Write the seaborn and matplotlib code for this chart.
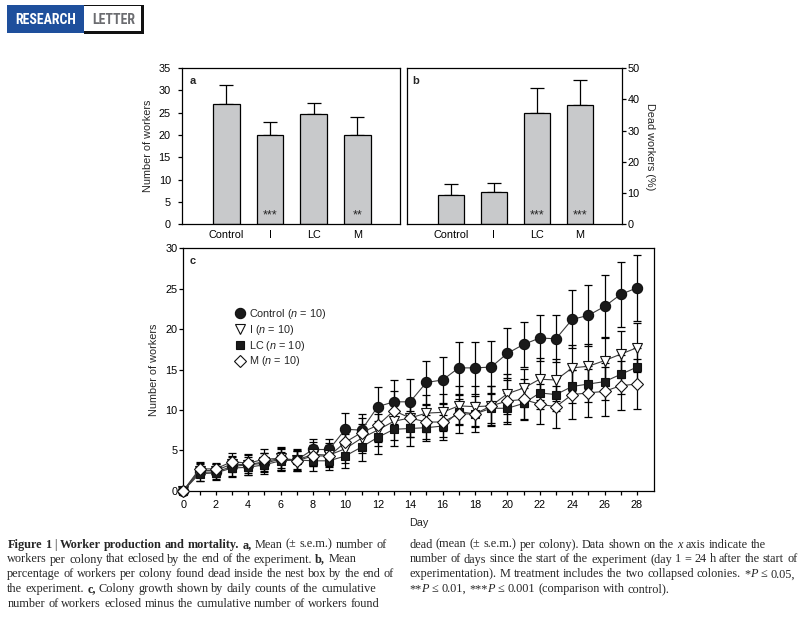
import matplotlib
matplotlib.use("Agg")
import matplotlib.pyplot as plt
from matplotlib.lines import Line2D
from matplotlib.patches import Rectangle
import numpy as np
import pandas as pd
import seaborn as sns

# ---- data ----
treatments = ["Control", "I", "LC", "M"]
workers_mean = [27.0, 19.9, 24.8, 20.1]
workers_sem = [4.3, 2.9, 2.45, 4.0]
workers_sig = ["", "***", "", "**"]
dead_mean = [9.5, 10.2, 35.7, 38.2]
dead_sem = [3.4, 3.1, 7.9, 7.9]
dead_sig = ["", "", "***", "***"]

days = list(range(29))
control_mean = [0, 2.3, 2.3, 3.0, 3.2, 3.4, 3.9, 3.8, 5.1, 5.1, 7.6, 7.5, 10.4, 11.0, 11.0,
                13.4, 13.7, 15.2, 15.2, 15.3, 17.0, 18.1, 18.9, 18.8, 21.2, 21.7, 22.8, 24.3, 25.1]
control_sem = [0, 1.1, 1.0, 1.2, 1.3, 1.3, 1.4, 1.3, 1.3, 1.3, 2.0, 2.0, 2.4, 2.7, 2.8,
               2.7, 2.8, 3.2, 3.2, 3.2, 3.1, 2.8, 2.9, 2.9, 3.6, 3.8, 3.9, 4.0, 4.1]
i_mean = [0, 2.5, 2.5, 3.3, 3.2, 3.6, 4.0, 3.8, 4.5, 4.4, 5.2, 6.5, 7.5, 8.6, 9.0,
          9.6, 9.7, 10.5, 10.4, 10.5, 12.0, 12.7, 13.8, 13.7, 15.2, 15.4, 16.1, 16.9, 17.7]
i_sem = [0, 0.8, 0.8, 1.0, 1.0, 1.1, 1.2, 1.2, 1.5, 1.5, 1.8, 1.8, 2.0, 2.3, 2.4,
         2.3, 2.3, 2.4, 2.5, 2.4, 2.5, 2.4, 2.6, 2.6, 2.8, 2.8, 2.9, 2.9, 3.0]
lc_mean = [0, 2.1, 2.2, 2.8, 2.9, 3.2, 3.7, 3.8, 3.7, 3.7, 4.3, 5.4, 6.6, 7.6, 7.7,
           7.8, 8.0, 9.8, 9.5, 10.2, 10.2, 10.8, 12.1, 11.9, 12.9, 13.2, 13.5, 14.4, 15.3]
lc_sem = [0, 0.9, 0.8, 1.1, 0.9, 0.9, 1.1, 1.1, 1.2, 1.1, 1.5, 1.7, 2.0, 2.1, 2.2,
          1.6, 1.4, 1.6, 1.5, 1.8, 1.9, 1.9, 2.0, 2.0, 2.1, 2.2, 2.3, 2.4, 2.4]
m_mean = [0, 2.7, 2.7, 3.6, 3.4, 3.9, 4.0, 3.7, 4.3, 4.3, 6.0, 7.2, 8.1, 9.9, 9.0,
          8.5, 8.5, 9.5, 9.5, 10.5, 11.1, 11.3, 10.7, 10.4, 11.9, 12.1, 12.3, 13.0, 13.2]
m_sem = [0, 0.8, 0.7, 1.1, 1.0, 1.2, 1.4, 1.2, 1.3, 1.3, 1.8, 1.8, 2.1, 2.4, 2.3,
         2.1, 2.2, 2.3, 2.2, 2.5, 2.6, 2.5, 2.5, 2.6, 3.0, 3.0, 3.0, 3.0, 3.1]
group_n = 10

caption_left = [
    [("Figure 1", "b"), (" | ", "r"), ("Worker production and mortality.", "b"), (" ", "r"),
     ("a,", "b"), (" Mean (\u00b1 s.e.m.) number of", "r")],
    [("workers per colony that eclosed by the end of the experiment. ", "r"), ("b,", "b"),
     (" Mean", "r")],
    [("percentage of workers per colony found dead inside the nest box by the end of", "r")],
    [("the experiment. ", "r"), ("c,", "b"),
     (" Colony growth shown by daily counts of the cumulative", "r")],
    [("number of workers eclosed minus the cumulative number of workers found", "r")],
]
caption_right = [
    [("dead (mean (\u00b1 s.e.m.) per colony). Data shown on the ", "r"), ("x", "i"),
     (" axis indicate the", "r")],
    [("number of days since the start of the experiment (day 1 = 24 h after the start of", "r")],
    [("experimentation). M treatment includes the two collapsed colonies. *", "r"), ("P", "i"),
     (" \u2264 0.05,", "r")],
    [("**", "r"), ("P", "i"), (" \u2264 0.01, ***", "r"), ("P", "i"),
     (" \u2264 0.001 (comparison with control).", "r")],
]

# ---- style ----
W, H = 808, 618
BAR_GREY = "#c8c9cb"
sns.set_theme(style="ticks", rc={
    "axes.linewidth": 0.9,
    "axes.edgecolor": "black",
    "xtick.major.width": 0.9,
    "ytick.major.width": 0.9,
    "xtick.minor.width": 0.9,
    "xtick.major.size": 3,
    "ytick.major.size": 3,
    "xtick.minor.size": 3,
    "xtick.color": "black",
    "ytick.color": "black",
})
plt.rcParams["font.family"] = ["Liberation Sans", "DejaVu Sans"]
plt.rcParams["mathtext.fontset"] = "custom"
plt.rcParams["mathtext.rm"] = "Liberation Sans"
plt.rcParams["mathtext.it"] = "Liberation Sans:italic"
FS = 7.8

fig = plt.figure(figsize=(W / 100, H / 100), dpi=100)
renderer = fig.canvas.get_renderer()


def px_axes(left, top, right, bottom):
    return fig.add_axes([left / W, 1 - bottom / H, (right - left) / W, (bottom - top) / H])


def bar_panel(ax, means, sems, stars, ymax, step):
    df = pd.DataFrame({"treatment": treatments, "value": means})
    sns.barplot(data=df, x="treatment", y="value", color=BAR_GREY, saturation=1,
                edgecolor="black", linewidth=0.9, width=0.61, errorbar=None, ax=ax, zorder=2)
    ax.errorbar(range(len(means)), means, yerr=[np.zeros(len(sems)), sems], fmt="none",
                ecolor="black", elinewidth=0.9, capsize=5, capthick=0.9, zorder=1)
    for i, s in enumerate(stars):
        if s:
            ax.text(i, 0.04, s, ha="center", va="baseline", fontsize=9,
                    transform=ax.get_xaxis_transform(), zorder=5)
    ax.set_xlim(-1.02, 3.98)
    ax.set_ylim(0, ymax)
    ax.set_yticks(np.arange(0, ymax + 0.1, step))
    ax.set_xlabel("")
    ax.tick_params(axis="x", length=0, pad=4, labelsize=FS)
    ax.tick_params(axis="y", labelsize=FS)


# panel a
ax_a = px_axes(182, 68, 400, 224.3)
bar_panel(ax_a, workers_mean, workers_sem, workers_sig, 35, 5)
ax_a.tick_params(axis="y", pad=5)
ax_a.set_ylabel("Number of workers", fontsize=FS, labelpad=4)
ax_a.text(0.033, 0.92, "a", transform=ax_a.transAxes, fontsize=8, fontweight="bold",
          va="center", ha="left")

# panel b
ax_b = px_axes(407.3, 68, 621.7, 224.3)
bar_panel(ax_b, dead_mean, dead_sem, dead_sig, 50, 10)
ax_b.yaxis.tick_right()
ax_b.yaxis.set_label_position("right")
ax_b.tick_params(axis="y", pad=1.2)
ax_b.set_ylabel("Dead workers (%)", fontsize=FS, rotation=270, labelpad=11)
ax_b.text(0.025, 0.92, "b", transform=ax_b.transAxes, fontsize=8, fontweight="bold",
          va="center", ha="left")

# panel c
ax_c = px_axes(183.3, 248.3, 654.3, 490.7)
groups = [
    ("Control", control_mean, control_sem, "o", "#1a1a1a", 7.4),
    ("I", i_mean, i_sem, "v", "white", 7.0),
    ("LC", lc_mean, lc_sem, "s", "#1a1a1a", 6.4),
    ("M", m_mean, m_sem, "D", "white", 6.0),
]
long_rows = []
for name, mean, sem, *_ in groups:
    for d, mv, sv in zip(days, mean, sem):
        long_rows.append({"day": d, "workers": mv, "sem": sv, "treatment": name})
df_c = pd.DataFrame(long_rows)

handles = []
labels = []
for k, (name, mean, sem, marker, face, msize) in enumerate(groups):
    sub = df_c[df_c["treatment"] == name]
    ax_c.errorbar(sub["day"], sub["workers"], yerr=sub["sem"], fmt="none", ecolor="black",
                  elinewidth=0.9, capsize=3, capthick=0.9, zorder=2 + k * 0.1, clip_on=False)
    sns.lineplot(data=sub, x="day", y="workers", color="#3c3c3c", linewidth=0.8,
                 marker=marker, markersize=msize, markerfacecolor=face,
                 markeredgecolor="#111111", markeredgewidth=0.8, errorbar=None,
                 ax=ax_c, zorder=3 + k * 0.1, clip_on=False)
    handles.append(Line2D([], [], linestyle="none", marker=marker, markersize=msize,
                          markerfacecolor=face, markeredgecolor="#111111",
                          markeredgewidth=0.8))
    labels.append(f"{name} ($n$ = {group_n})")

ax_c.set_xlim(0, 29.07)
ax_c.set_ylim(0, 30)
ax_c.set_xticks(range(0, 29, 2))
ax_c.set_xticks(range(1, 29, 2), minor=True)
ax_c.set_yticks(range(0, 31, 5))
ax_c.tick_params(axis="x", which="both", direction="out", pad=3.5, labelsize=FS)
ax_c.tick_params(axis="y", pad=1, labelsize=FS)
ax_c.set_xlabel("Day", fontsize=FS, labelpad=6)
ax_c.set_ylabel("Number of workers", fontsize=FS, labelpad=5)
ax_c.text(0.014, 0.949, "c", transform=ax_c.transAxes, fontsize=8, fontweight="bold",
          va="center", ha="left")
ax_c.legend(handles, labels, loc="upper left", bbox_to_anchor=(0.108, 0.757), frameon=False,
            fontsize=FS, handlelength=1.0, handletextpad=0.4, labelspacing=0.16,
            borderpad=0, borderaxespad=0)

# ---- header ----
fig.add_artist(Rectangle((7 / W, 1 - 33 / H), 77 / W, 28 / H, transform=fig.transFigure,
                         facecolor="#1e4f9c", edgecolor="none"))
fig.add_artist(Rectangle((84 / W, 1 - 34 / H), 59.5 / W, 29 / H, transform=fig.transFigure,
                         facecolor="#111111", edgecolor="none"))
fig.add_artist(Rectangle((84 / W, 1 - 31.3 / H), 57 / W, 25.5 / H, transform=fig.transFigure,
                         facecolor="white", edgecolor="none"))
head_font = ["Roboto Condensed", "DejaVu Sans"]


def fitted_text(xc, yc, s, color, target_w):
    t = fig.text(xc / W, 1 - yc / H, s, color=color, fontsize=12, fontweight="bold",
                 fontstretch="condensed", family=head_font, ha="center", va="center")
    w = t.get_window_extent(renderer).width
    t.set_fontsize(min(13, 12 * target_w / w))


fitted_text(45.5, 19.7, "RESEARCH", "white", 61)
fitted_text(113.5, 19.7, "LETTER", "#6b6c70", 43)

# ---- caption (one text per word, placed left to right) ----
CAP_FONT = ["Liberation Serif", "DejaVu Serif"]


def cap_kw(style, size):
    return dict(fontsize=size, family=CAP_FONT,
                fontweight="bold" if style == "b" else "normal",
                fontstyle="italic" if style == "i" else "normal")


def measure(s, style, size):
    t = fig.text(0, 0, s, **cap_kw(style, size))
    w = t.get_window_extent(renderer).width
    t.remove()
    return w


# size the caption so its longest plain line spans the column like the original,
# and derive the word gap from how that line sets as one string
ref_line = caption_left[2][0][0]
cap_size = 10 * 386 / measure(ref_line, "r", 10)
ref_words = ref_line.split(" ")
space_w = (measure(ref_line, "r", cap_size)
           - sum(measure(w, "r", cap_size) for w in ref_words)) / (len(ref_words) - 1)


def caption_line(x, y, runs):
    words = [[]]
    for text, style in runs:
        for j, part in enumerate(text.split(" ")):
            if j > 0:
                words.append([])
            if part:
                words[-1].append((part, style))
    for word in (w for w in words if w):
        for k, (seg, style) in enumerate(word):
            if k > 0:
                x -= 0.6
            t = fig.text(x / W, 1 - y / H, seg, ha="left", va="baseline",
                         **cap_kw(style, cap_size))
            x += t.get_window_extent(renderer).width
        x += space_w


for i, line in enumerate(caption_left):
    caption_line(7.3, 547.7 + 14.8 * i, line)
for i, line in enumerate(caption_right):
    caption_line(409.3, 547.7 + 14.8 * i, line)

fig.savefig("out.png", dpi=100)
